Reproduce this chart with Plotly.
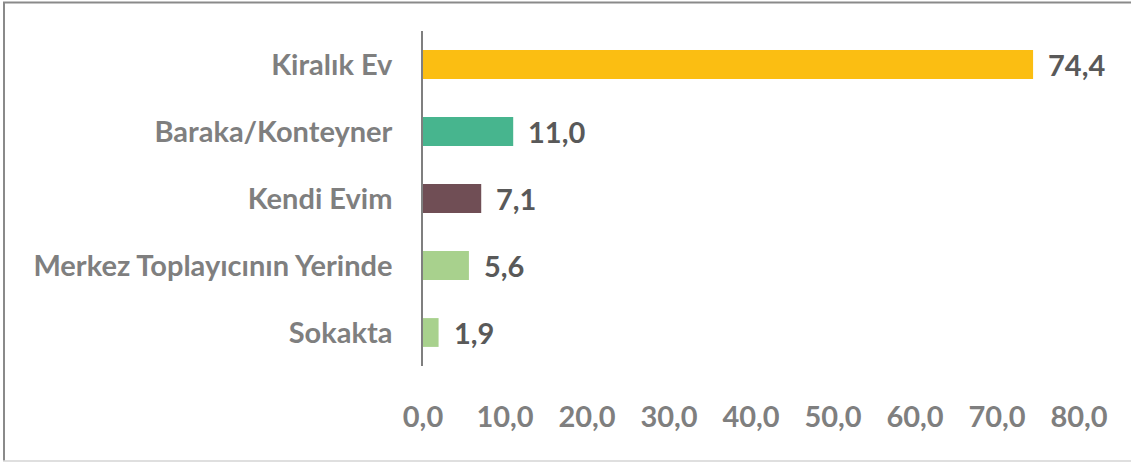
import plotly.graph_objects as go

categories = ["Kiralık Ev", "Baraka/Konteyner", "Kendi Evim", "Merkez Toplayıcının Yerinde", "Sokakta"]
values = [74.4, 11.0, 7.1, 5.6, 1.9]
colors = ["#FBBE12", "#47B58E", "#704E55", "#A8D18D", "#A8D18D"]
tick_vals = [0, 10, 20, 30, 40, 50, 60, 70, 80]

W, H = 1131, 462
L, R, T, B = 423, 52, 31, 96
pw, ph = W - L - R, H - T - B

FONT = "Lato"
FS = 29

fig = go.Figure()
fig.add_trace(go.Bar(
    y=categories, x=values, orientation="h",
    marker=dict(color=colors, line=dict(width=0)),
    width=0.43,
    hoverinfo="skip",
))

for c, v in zip(categories, values):
    fig.add_annotation(
        x=v, y=c, xref="x", yref="y",
        text=f"<b>{v:.1f}".replace(".", ",") + "</b>",
        showarrow=False, xanchor="left", xshift=13,
        font=dict(family=FONT, size=FS, color="#595959"),
    )

# outer border
def px_x(p):
    return (p - L) / pw

def px_y(p):
    return 1 - (p - T) / ph

fig.add_shape(type="line", xref="paper", yref="paper",
              x0=px_x(3), x1=px_x(1131), y0=px_y(2.5), y1=px_y(2.5),
              line=dict(color="#8a8a8a", width=2))
fig.add_shape(type="line", xref="paper", yref="paper",
              x0=px_x(4), x1=px_x(4), y0=px_y(2), y1=px_y(461),
              line=dict(color="#8a8a8a", width=2))
fig.add_shape(type="line", xref="paper", yref="paper",
              x0=px_x(3), x1=px_x(1131), y0=px_y(461), y1=px_y(461),
              line=dict(color="#d4d4d4", width=1.5))

fig.update_layout(
    width=W, height=H,
    margin=dict(l=L, r=R, t=T, b=B, pad=0),
    paper_bgcolor="white", plot_bgcolor="white",
    separators=",.",
    showlegend=False,
    font=dict(family=FONT, color="#7F7F7F"),
    xaxis=dict(
        range=[0, 80], tickvals=tick_vals, tickformat=".1f",
        showgrid=False, zeroline=False, showline=False,
        ticks="", ticklabelstandoff=31,
        tickfont=dict(family=FONT, size=FS, color="#7F7F7F", weight="bold"),
        fixedrange=True,
    ),
    yaxis=dict(
        autorange="reversed",
        showgrid=False, zeroline=False,
        showline=True, linecolor="#7F7F7F", linewidth=1.5,
        ticks="", ticklabelstandoff=23,
        tickfont=dict(family=FONT, size=FS, color="#7F7F7F", weight="bold"),
        fixedrange=True,
    ),
)

fig.write_html(
    "out.html",
    config={"displayModeBar": False},
    post_script="document.body.style.margin='0';document.body.style.overflow='hidden';",
)
